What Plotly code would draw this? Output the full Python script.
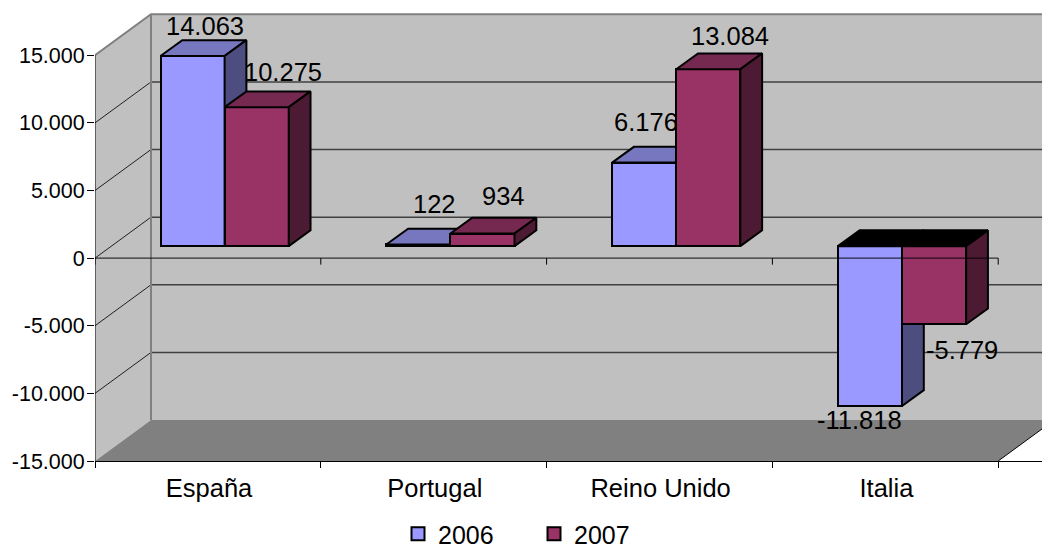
import plotly.graph_objects as go

categories = ["España", "Portugal", "Reino Unido", "Italia"]
series_names = ["2006", "2007"]
values_2006 = [14063, 122, 6176, -11818]
values_2007 = [10275, 934, 13084, -5779]
y_ticks = [-15000, -10000, -5000, 0, 5000, 10000, 15000]

FONT = "Liberation Sans, Arial, sans-serif"
PX_W, PX_H = 1042, 550
LEFT, BOTTOM_PX, TOP_PX = 95, 461.3, 10
UX = 225.8        # px per category
UY = 406 / 30000  # px per value unit

def sx(px):
    return px / UX

def sy(px):
    return px / UY

X_MAX = (PX_W - LEFT) / UX
Y_MIN = -15000
Y_MAX = Y_MIN + sy(BOTTOM_PX - TOP_PX)
N = len(categories)
WALL_DX, WALL_DY = sx(56), sy(41)
BAR_DX, BAR_DY = sx(21.8), sy(15.8)
BAR_W = sx(64.1)
BASE = sy(12)
OFFS = [0.432, 0.716]

FRONT = ["#9999FF", "#993366"]
TOP = ["#7777C0", "#752850"]
SIDE = ["#4D4D80", "#4D1A33"]
# per series, per category pixel shift of value labels
SHIFT = [
    [(12, 30), (16, 40), (2, 41), (-10, -14)],
    [(26, 35), (21, 38), (22, 33), (28, -26)],
]

fig = go.Figure()

def poly(xs, ys, fill, line=None, width=0, ax=""):
    fig.add_trace(go.Scatter(
        x=xs, y=ys, mode="lines", fill="toself", fillcolor=fill,
        line=dict(color=line or fill, width=width if line else 0),
        showlegend=False, hoverinfo="skip", xaxis="x" + ax, yaxis="y" + ax))

def path(xs, ys, color, width, ax=""):
    fig.add_trace(go.Scatter(
        x=xs, y=ys, mode="lines", line=dict(color=color, width=width),
        showlegend=False, hoverinfo="skip", xaxis="x" + ax, yaxis="y" + ax))

# walls and floor
poly([WALL_DX, X_MAX + 1, X_MAX + 1, WALL_DX], [Y_MIN + WALL_DY, Y_MIN + WALL_DY, 15000 + WALL_DY, 15000 + WALL_DY], "#C0C0C0")
poly([0, WALL_DX, WALL_DX, 0], [Y_MIN, Y_MIN + WALL_DY, 15000 + WALL_DY, 15000], "#C0C0C0")
poly([0, WALL_DX, N + WALL_DX, N], [Y_MIN, Y_MIN + WALL_DY, Y_MIN + WALL_DY, Y_MIN], "#808080")

# grid on back wall and side wall
gx, gy, dx_, dy_ = [], [], [], []
for t in y_ticks[1:-1]:
    gx += [WALL_DX, X_MAX + 1, None]
    gy += [t + WALL_DY, t + WALL_DY, None]
    dx_ += [0, WALL_DX, None]
    dy_ += [t, t + WALL_DY, None]
path(gx, gy, "#404040", 1.5)
path(dx_, dy_, "#202020", 1)
path([0, WALL_DX, X_MAX + 1], [15000, 15000 + WALL_DY, 15000 + WALL_DY], "#808080", 2)
path([WALL_DX, WALL_DX], [15000 + WALL_DY, Y_MIN + WALL_DY], "#808080", 2)
path([N, N + WALL_DX], [Y_MIN, Y_MIN + WALL_DY], "#000000", 1)

# bars
for s, vals in enumerate([values_2006, values_2007]):
    ax = str(s + 2)
    centres = [i + OFFS[s] for i in range(N)]
    fig.add_trace(go.Bar(
        x=centres, y=vals, base=[BASE] * N, width=BAR_W, name=series_names[s],
        marker=dict(color=FRONT[s], line=dict(color="#000000", width=2)),
        showlegend=False, hoverinfo="skip", xaxis="x" + ax, yaxis="y" + ax))
    for c, v in zip(centres, vals):
        xl, xr = c - BAR_W / 2, c + BAR_W / 2
        hi, lo = max(BASE, BASE + v), min(BASE, BASE + v)
        poly([xl, xr, xr + BAR_DX, xl + BAR_DX, xl], [hi, hi, hi + BAR_DY, hi + BAR_DY, hi],
             "#000000" if v < 0 else TOP[s], "#000000", 2, ax)
        poly([xr, xr + BAR_DX, xr + BAR_DX, xr, xr], [lo, lo + BAR_DY, hi + BAR_DY, hi, lo],
             SIDE[s], "#000000", 2, ax)

# axis lines on top of everything
path([0, N], [0, 0], "rgba(0,0,0,0.75)", 1.3, "4")
path([0, 0], [Y_MIN, 15000], "#000000", 1, "4")
tx, ty = [], []
for i in range(N + 1):
    tx += [i, i, None]
    ty += [0, -sy(6.5), None]
path(tx, ty, "#000000", 1, "4")

# legend entries
for s in range(2):
    fig.add_trace(go.Scatter(
        x=[None], y=[None], mode="markers", name=series_names[s],
        marker=dict(symbol="square", size=13, color=FRONT[s], line=dict(color="#000000", width=2)),
        xaxis="x4", yaxis="y4"))

# value labels
annotations = []
for s, vals in enumerate([values_2006, values_2007]):
    for i, v in enumerate(vals):
        annotations.append(dict(
            x=i + OFFS[s], y=BASE + v, xref="x", yref="y",
            text=f"{v:,}".replace(",", "."), showarrow=False,
            xanchor="center", yanchor="middle",
            xshift=SHIFT[s][i][0], yshift=SHIFT[s][i][1],
            font=dict(family=FONT, size=25.5, color="#000000")))

hidden_x = dict(range=[0, X_MAX], visible=False, overlaying="x", anchor="y", fixedrange=True)
hidden_y = dict(range=[Y_MIN, Y_MAX], visible=False, overlaying="y", anchor="x", fixedrange=True)

fig.update_layout(
    width=PX_W, height=PX_H, autosize=False,
    margin=dict(l=LEFT, r=0, t=TOP_PX, b=PX_H - BOTTOM_PX, pad=0),
    paper_bgcolor="#FFFFFF", plot_bgcolor="#FFFFFF",
    bargap=0, barmode="overlay",
    hovermode=False,
    font=dict(family=FONT, color="#000000"),
    annotations=annotations,
    showlegend=True,
    legend=dict(
        orientation="h", xref="container", yref="container",
        x=398 / PX_W, y=1 - 534 / PX_H,
        xanchor="left", yanchor="middle", bgcolor="rgba(0,0,0,0)",
        font=dict(family=FONT, size=25), entrywidth=91, entrywidthmode="pixels",
        itemclick=False, itemdoubleclick=False, tracegroupgap=0),
    xaxis=dict(
        range=[0, X_MAX], tickmode="array", tickvals=[i + 0.505 for i in range(N)],
        ticktext=categories, ticks="", showgrid=False, zeroline=False,
        showline=True, linecolor="#000000", linewidth=1, fixedrange=True,
        tickfont=dict(family=FONT, size=25.5), ticklabelstandoff=4,
        minor=dict(tickmode="array", tickvals=list(range(N + 1)), ticks="outside",
                   ticklen=6, tickcolor="#000000", tickwidth=1, showgrid=False)),
    yaxis=dict(
        range=[Y_MIN, Y_MAX], tickmode="array", tickvals=y_ticks,
        ticktext=[f"{t:,}".replace(",", ".") for t in y_ticks], ticks="outside",
        ticklen=7, tickcolor="#000000", tickwidth=1, showgrid=False, zeroline=False,
        showline=False, fixedrange=True, ticklabelstandoff=-2,
        tickfont=dict(family=FONT, size=21.5)),
    xaxis2=hidden_x, yaxis2=hidden_y,
    xaxis3=hidden_x, yaxis3=hidden_y,
    xaxis4=hidden_x, yaxis4=hidden_y,
)
fig.write_html("out.html", config={"displayModeBar": False},
               post_script="document.body.style.margin='0';document.documentElement.style.overflow='hidden';")
